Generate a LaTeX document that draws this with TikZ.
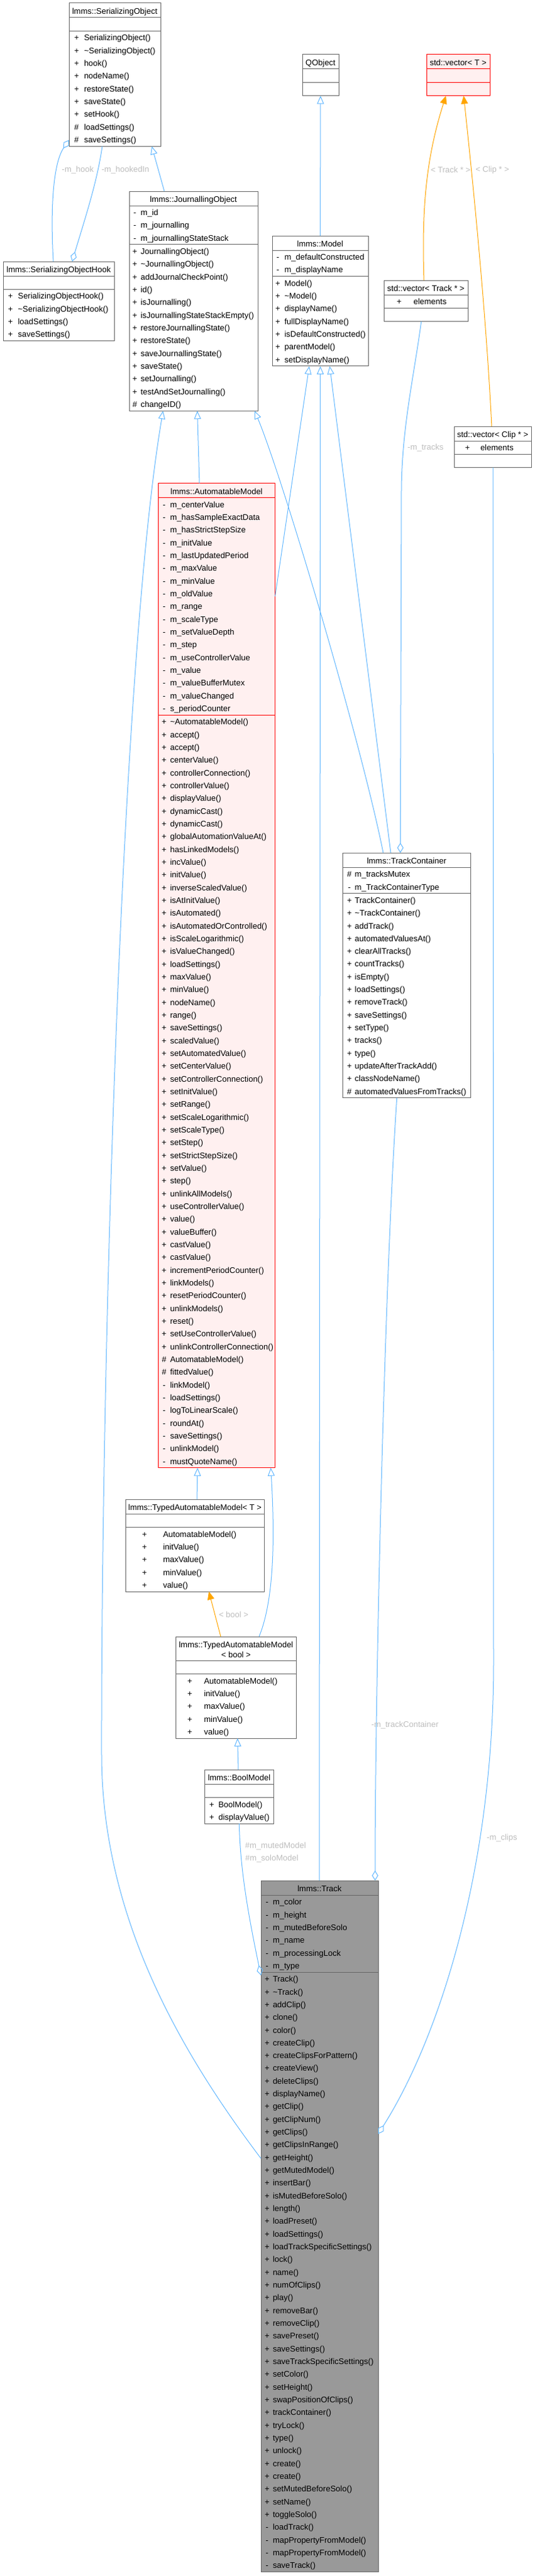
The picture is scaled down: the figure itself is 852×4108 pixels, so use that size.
\documentclass[tikz,border=0pt]{standalone}
\usepackage{fontspec}
\setmainfont{Liberation Sans}
\usetikzlibrary{arrows.meta,calc}
\definecolor{eblue}{HTML}{63B8FF}
\definecolor{eorange}{HTML}{FFA500}
\definecolor{bgray}{HTML}{666666}
\definecolor{tgray}{HTML}{999999}
\definecolor{rfill}{HTML}{FFF0F0}
\definecolor{lgray}{HTML}{BEBEBE}
\newcommand\clsfont{\fontsize{13pt}{15pt}\selectfont}
\tikzset{
  clsframe/.style={rectangle,inner sep=0pt,outer sep=0pt,line width=1pt},
  plainbox/.style={draw=bgray,fill=white},
  redbox/.style={draw=red,fill=rfill},
  mainbox/.style={draw=bgray,fill=tgray},
  clsrule/.style={line width=1pt},
  clstext/.style={inner sep=0pt,outer sep=0pt,font=\clsfont,text=black},
  inh/.style={draw=eblue,line width=1pt,-{Triangle[open,length=13pt,width=11pt]}},
  agg/.style={draw=eblue,line width=1pt,{Diamond[open,length=16pt,width=10pt]}-},
  tpl/.style={draw=eorange,line width=1pt,-{Triangle[length=13pt,width=11pt,fill=eorange]}},
  elab/.style={inner sep=0pt,font=\clsfont,text=lgray},
}
\newcommand\rowh{20.33}
% #1 name #2 style #3 x #4 y #5 w #6 title #7 title height #8 attrs #9 methods
\newcommand\clsbox[9]{%
  \xdef\nA{0}\xdef\nM{0}%
  \foreach \cv/\cn [count=\ck] in {#8} {\xdef\nA{\ck}}%
  \foreach \cv/\cn [count=\ck] in {#9} {\xdef\nM{\ck}}%
  \pgfmathsetmacro\hA{\nA*\rowh+1}%
  \pgfmathsetmacro\hM{\nM*\rowh+1}%
  \pgfmathsetmacro\hT{#7+\hA+\hM}%
  \pgfmathsetmacro\yA{#4+#7}%
  \pgfmathsetmacro\yM{\yA+\hA}%
  \pgfmathsetmacro\dM{#7+\hA}%
  \node[clsframe,#2,minimum width=#5pt,minimum height=\hT pt,anchor=north west] (#1) at (#3,#4) {};
  \draw[clsrule,#2] ([yshift=-#7pt]#1.north west) -- ([yshift=-#7pt]#1.north east);
  \draw[clsrule,#2] ([yshift=-\dM pt]#1.north west) -- ([yshift=-\dM pt]#1.north east);
  \node[clstext,anchor=base] (#1-title) at ([yshift=-17.5pt]#1.north) {#6};
  \foreach \cv/\cn [count=\ck] in {#8} {%
    \pgfmathsetmacro\yy{\yA+(\ck-0.5)*\rowh+5.5}%
    \node[clstext,anchor=base] (#1-av\ck) at (#3+\sx,\yy) {\cv};
    \node[clstext,anchor=base west] (#1-a\ck) at (#3+\nx,\yy) {\cn};
  }%
  \foreach \cv/\cn [count=\ck] in {#9} {%
    \pgfmathsetmacro\yy{\yM+(\ck-0.5)*\rowh+5.5}%
    \node[clstext,anchor=base] (#1-mv\ck) at (#3+\sx,\yy) {\cv};
    \node[clstext,anchor=base west] (#1-m\ck) at (#3+\nx,\yy) {\cn};
  }%
}
\begin{document}
\begin{tikzpicture}[x=1pt,y=-1pt]
\fill[white] (0,0) rectangle (852,4108);
\useasboundingbox (0,0) rectangle (852,4108);

\def\sx{12.1}\def\nx{24}
\clsbox{so}{plainbox}{110}{5}{146}{lmms::SerializingObject}{23}{{}/{}}{+/SerializingObject(), +/\textasciitilde SerializingObject(), +/hook(), +/nodeName(), +/restoreState(), +/saveState(), +/setHook(), \#/loadSettings(), \#/saveSettings()}

\def\sx{11.6}\def\nx{23.6}
\clsbox{hook}{plainbox}{5}{417}{177}{lmms::SerializingObjectHook}{23}{{}/{}}{+/SerializingObjectHook(), +/\textasciitilde SerializingObjectHook(), +/loadSettings(), +/saveSettings()}

\def\sx{9}\def\nx{18.3}
\clsbox{jo}{plainbox}{206}{305}{205}{lmms::JournallingObject}{23}{-/m\_id, -/m\_journalling, -/m\_journallingStateStack}{+/JournallingObject(), +/\textasciitilde JournallingObject(), +/addJournalCheckPoint(), +/id(), +/isJournalling(), +/isJournallingStateStackEmpty(), +/restoreJournallingState(), +/restoreState(), +/saveJournallingState(), +/saveState(), +/setJournalling(), +/testAndSetJournalling(), \#/changeID()}

\clsbox{qo}{plainbox}{482}{87}{58}{QObject}{23}{{}/{}}{{}/{}}

\def\sx{9}\def\nx{19.6}
\clsbox{model}{plainbox}{434}{376}{153}{lmms::Model}{23}{-/m\_defaultConstructed, -/m\_displayName}{+/Model(), +/\textasciitilde Model(), +/displayName(), +/fullDisplayName(), +/isDefaultConstructed(), +/parentModel(), +/setDisplayName()}

\clsbox{vt}{redbox}{680}{87}{101}{std::vector< T >}{23}{{}/{}}{{}/{}}

\def\sx{24.5}\def\nx{47.3}
\clsbox{vtr}{plainbox}{612}{447}{134}{std::vector< Track * >}{23}{+/elements}{{}/{}}

\def\sx{21.5}\def\nx{42}
\clsbox{vcl}{plainbox}{724}{680}{123}{std::vector< Clip * >}{23}{+/elements}{{}/{}}

\def\sx{9.7}\def\nx{19.3}
\clsbox{am}{redbox}{252}{770.6}{186.6}{lmms::AutomatableModel}{23}{-/m\_centerValue, -/m\_hasSampleExactData, -/m\_hasStrictStepSize, -/m\_initValue, -/m\_lastUpdatedPeriod, -/m\_maxValue, -/m\_minValue, -/m\_oldValue, -/m\_range, -/m\_scaleType, -/m\_setValueDepth, -/m\_step, -/m\_useControllerValue, -/m\_value, -/m\_valueBufferMutex, -/m\_valueChanged, -/s\_periodCounter}{+/\textasciitilde AutomatableModel(), +/accept(), +/accept(), +/centerValue(), +/controllerConnection(), +/controllerValue(), +/displayValue(), +/dynamicCast(), +/dynamicCast(), +/globalAutomationValueAt(), +/hasLinkedModels(), +/incValue(), +/initValue(), +/inverseScaledValue(), +/isAtInitValue(), +/isAutomated(), +/isAutomatedOrControlled(), +/isScaleLogarithmic(), +/isValueChanged(), +/loadSettings(), +/maxValue(), +/minValue(), +/nodeName(), +/range(), +/saveSettings(), +/scaledValue(), +/setAutomatedValue(), +/setCenterValue(), +/setControllerConnection(), +/setInitValue(), +/setRange(), +/setScaleLogarithmic(), +/setScaleType(), +/setStep(), +/setStrictStepSize(), +/setValue(), +/step(), +/unlinkAllModels(), +/useControllerValue(), +/value(), +/valueBuffer(), +/castValue(), +/castValue(), +/incrementPeriodCounter(), +/linkModels(), +/resetPeriodCounter(), +/unlinkModels(), +/reset(), +/setUseControllerValue(), +/unlinkControllerConnection(), \#/AutomatableModel(), \#/fittedValue(), -/linkModel(), -/loadSettings(), -/logToLinearScale(), -/roundAt(), -/saveSettings(), -/unlinkModel(), -/mustQuoteName()}

\def\sx{10.4}\def\nx{19}
\clsbox{tc}{plainbox}{546.7}{1360}{203.3}{lmms::TrackContainer}{23}{\#/m\_tracksMutex, -/m\_TrackContainerType}{+/TrackContainer(), +/\textasciitilde TrackContainer(), +/addTrack(), +/automatedValuesAt(), +/clearAllTracks(), +/countTracks(), +/isEmpty(), +/loadSettings(), +/removeTrack(), +/saveSettings(), +/setType(), +/tracks(), +/type(), +/updateAfterTrackAdd(), +/classNodeName(), \#/automatedValuesFromTracks()}

\def\sx{30.5}\def\nx{60}
\clsbox{tamt}{plainbox}{200}{2391}{221.7}{lmms::TypedAutomatableModel< T >}{23}{{}/{}}{+/AutomatableModel(), +/initValue(), +/maxValue(), +/minValue(), +/value()}

\def\sx{22}\def\nx{44.6}
\clsbox{tamb}{plainbox}{280.7}{2610}{191.3}{lmms::TypedAutomatableModel}{38}{{}/{}}{+/AutomatableModel(), +/initValue(), +/maxValue(), +/minValue(), +/value()}
\node[clstext,anchor=base] (tamb-title2) at ([yshift=-33pt]tamb.north) {< bool >};

\def\sx{11}\def\nx{21.6}
\clsbox{bool}{plainbox}{326.7}{2822}{109.3}{lmms::BoolModel}{23}{{}/{}}{+/BoolModel(), +/displayValue()}

\def\sx{9.8}\def\nx{19}
\clsbox{track}{mainbox}{416}{2999}{187}{lmms::Track}{23}{-/m\_color, -/m\_height, -/m\_mutedBeforeSolo, -/m\_name, -/m\_processingLock, -/m\_type}{+/Track(), +/\textasciitilde Track(), +/addClip(), +/clone(), +/color(), +/createClip(), +/createClipsForPattern(), +/createView(), +/deleteClips(), +/displayName(), +/getClip(), +/getClipNum(), +/getClips(), +/getClipsInRange(), +/getHeight(), +/getMutedModel(), +/insertBar(), +/isMutedBeforeSolo(), +/length(), +/loadPreset(), +/loadSettings(), +/loadTrackSpecificSettings(), +/lock(), +/name(), +/numOfClips(), +/play(), +/removeBar(), +/removeClip(), +/savePreset(), +/saveSettings(), +/saveTrackSpecificSettings(), +/setColor(), +/setHeight(), +/swapPositionOfClips(), +/trackContainer(), +/tryLock(), +/type(), +/unlock(), +/create(), +/create(), +/setMutedBeforeSolo(), +/setName(), +/toggleSolo(), -/loadTrack(), -/mapPropertyFromModel(), -/mapPropertyFromModel(), -/saveTrack()}

% inheritance
\draw[inh] ([xshift=56pt]jo.north west) -- ([xshift=132pt]so.south west);
\draw[inh] (model.north) -- (qo.south);
\draw[inh] ([xshift=66pt]am.north west) -- ([xshift=108.6pt]jo.south west);
\draw[inh] ([yshift=-180.4pt]am.north east) -- ([xshift=59pt]model.south west);
\draw[inh] ([xshift=93pt]track.north west) -- ([xshift=76.7pt]model.south west);
\draw[inh] ([xshift=76.3pt]tc.north west) -- ([xshift=91.7pt]model.south west);
\draw[inh] ([xshift=64.3pt]tc.north west) .. controls (575,1180) and (450,760) .. ([xshift=-5pt]jo.south east);
\draw[inh] ([yshift=-443pt]track.north west) .. controls (290,3275) and (163,3060) .. (162,2800) .. controls (161,2200) and (192,1055) .. ([xshift=54pt]jo.south west);
\draw[inh] ([xshift=114pt]tamt.north west) -- ([xshift=63pt]am.south west);
\draw[inh] ([xshift=132.3pt]tamb.north west) .. controls (440,2545) and (437,2430) .. ([xshift=179.7pt]am.south west);
\draw[inh] ([xshift=53.3pt]bool.north west) -- ([xshift=98pt]tamb.south west);

% template instances
\draw[tpl] ([xshift=71.3pt]tamb.north west) -- ([xshift=133pt]tamt.south west);
\draw[tpl] ([xshift=64pt]vtr.north west) .. controls (672,330) and (680,250) .. ([xshift=31pt]vt.south west);
\draw[tpl] ([xshift=60pt]vcl.north west) .. controls (775,500) and (755,300) .. ([xshift=59.3pt]vt.south west);

% aggregation
\draw[agg] ([yshift=10pt]so.south west) .. controls (85,260) and (80,330) .. ([xshift=80pt]hook.north west);
\draw[agg] ([xshift=110pt]hook.north west) .. controls (135,350) and (155,290) .. ([xshift=53pt]so.south west);
\draw[agg] ([xshift=91.6pt]tc.north west) -- (640,780) .. controls (641,680) and (660,600) .. ([xshift=59.7pt]vtr.south west);
\draw[agg] ([yshift=-404pt]track.north east) .. controls (700,3250) and (787,2980) .. (787,2650) -- ([xshift=62pt]vcl.south west);
\draw[agg] ([xshift=-5pt]track.north east) .. controls (598,2700) and (612.6,2052) .. ([xshift=86pt]tc.south west);
\draw[agg] ([yshift=-151pt]track.north west) .. controls (395,3050) and (383,2980) .. (bool.south);

% edge labels
\node[elab] (l-hook) at (124,271) {-m\_hook};
\node[elab] (l-hookedin) at (200,271) {-m\_hookedIn};
\node[elab] (l-trk) at (718.5,271) {< Track * >};
\node[elab] (l-clp) at (785,271) {< Clip * >};
\node[elab] (l-tracks) at (678.5,714) {-m\_tracks};
\node[elab] (l-bool) at (372.5,2575) {< bool >};
\node[elab,anchor=west] (l-muted) at (390.7,2944) {\#m\_mutedModel};
\node[elab,anchor=west] (l-solo) at (391,2964) {\#m\_soloModel};
\node[elab,anchor=west] (l-tc) at (592,2751) {-m\_trackContainer};
\node[elab,anchor=west] (l-clips) at (776,2931) {-m\_clips};
\end{tikzpicture}
\end{document}
